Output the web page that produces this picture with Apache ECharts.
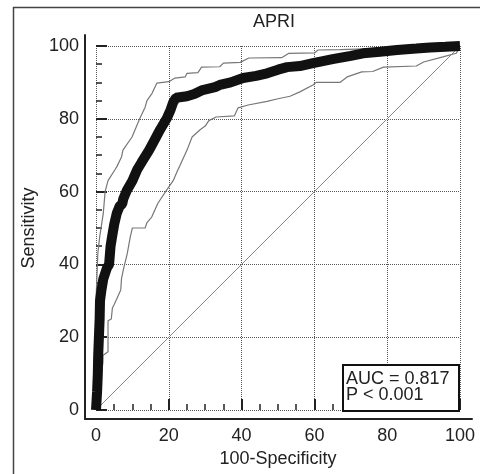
<!DOCTYPE html>
<html>
<head>
<meta charset="utf-8">
<script src="https://cdn.jsdelivr.net/npm/echarts@6/dist/echarts.min.js"></script>
<style>
html,body{margin:0;padding:0;background:#fff;overflow:hidden;}
#chart{width:480px;height:474px;}
</style>
</head>
<body>
<div id="chart"></div>
<script>
const chartTitle = 'APRI';
const xAxisName = '100-Specificity';
const yAxisName = 'Sensitivity';
const aucText = ['AUC = 0.817', 'P < 0.001'];

const rocCurve = [
  [0,0],[0.3,5],[0.5,10],[0.6,15],[0.8,20],[1,25],[1.1,30],[1.5,33],[2,36],[3,39],
  [3.6,40],[4,45],[4.4,47.5],[5,51],[5.7,54],[6.5,56],[7.2,56.6],[7.5,58],[8.5,60.4],
  [10,63],[11.3,66],[12.5,68],[14.6,71.4],[16,74],[17.6,77],[19.5,80.2],[20.5,82.5],
  [21.2,84.5],[22,85.8],[25,86.2],[27,86.8],[29,87.8],[32.7,88.7],[34,89.3],[37,90],
  [40.4,91.2],[44,91.8],[47,92.5],[50,93.5],[52.5,94.2],[56,94.5],[59.6,95.3],[62,95.8],
  [65,96.4],[70,97.3],[73.4,98],[78,98.4],[82.7,98.9],[88,99.3],[91.8,99.6],[96,99.8],[100,100]
];

const upperCI = [
  [0,0],[0,30],[0.5,43],[1,47.5],[2,54],[2.5,60],[3.3,63],[5.2,66],[5.8,67],[7,69.5],
  [7.4,71.4],[9.9,75],[12,80],[13.5,83.2],[14,85],[15.4,87],[16.7,89.8],[17,90],[20,90.2],
  [21.7,91.2],[24.5,91.5],[25,92.5],[28,92.7],[29,94.2],[34,94.3],[35,95.3],[39.6,95.5],
  [42,96.7],[51,96.8],[53,98],[60,98.1],[61,98.9],[67,99],[76,99.3],[85,100],[100,100]
];

const lowerCI = [
  [0,0],[0.5,5],[1.5,10],[1.9,13],[1.9,15],[3.3,16],[3.3,24.5],[4.2,25],[4.5,28],[5,29],
  [5.9,31],[6.8,33],[7,36],[7.5,38.5],[8.6,43],[9.4,47.5],[10,50],[13.5,50],[14,51.5],
  [15.3,53],[17,56.8],[19.4,60.4],[21.2,63],[22.5,66],[23,67],[25,71.4],[26.4,75],
  [28.6,77],[30,78],[31,79.5],[33,80.5],[38,80.8],[39,83],[41.8,83.8],[47,84.8],[50,85.5],
  [53.3,86.2],[56,87.4],[59.6,89.3],[60.5,90],[67,90],[69,91.5],[73,92.9],[76,93],
  [79,94.2],[88,94.5],[90,95.6],[95.3,97],[99,98],[100,100]
];

const diagonal = [[0,0],[100,100]];

const FONT = 'Liberation Sans, Arial, sans-serif';
const TXT = '#222';

const chart = echarts.init(document.getElementById('chart'), null, {renderer:'canvas'});
chart.setOption({
  animation: false,
  backgroundColor: '#fff',
  title: [
    {text: chartTitle, left: 253, top: 13, padding: 0,
     textStyle: {fontSize: 18, fontWeight: 'normal', color: TXT, fontFamily: FONT}},
    {text: aucText.join('\n'), left: 343, top: 366, padding: [5,10,7,3],
     borderColor: '#111', borderWidth: 2, backgroundColor: '#fff',
     textStyle: {fontSize: 18, fontWeight: 'normal', color: TXT, fontFamily: FONT, lineHeight: 16}}
  ],
  graphic: [
    {type: 'line', shape: {x1: 13.5, y1: 7, x2: 13.5, y2: 474},
     style: {stroke: '#444', lineWidth: 1.5}, silent: true, z: -10},
    {type: 'line', shape: {x1: 13, y1: 7.5, x2: 480, y2: 7.5},
     style: {stroke: '#444', lineWidth: 1.5}, silent: true, z: -10}
  ],
  grid: [
    {left: 96, top: 46, width: 364, height: 364},
    {left: 85, top: 35, width: 387, height: 384}
  ],
  xAxis: [
    {gridIndex: 0, type: 'value', min: 0, max: 100, interval: 20, offset: 9,
     axisLine: {show: false},
     axisTick: {show: true, inside: true, length: 11, lineStyle: {color: TXT, width: 2}},
     minorTick: {show: true, splitNumber: 4, length: 6, lineStyle: {color: TXT, width: 1.5}},
     axisLabel: {margin: 8, fontSize: 18, color: TXT, fontFamily: FONT},
     splitLine: {show: true, lineStyle: {type: [1, 1], color: '#555', width: 1}},
     name: xAxisName, nameLocation: 'middle', nameGap: 29,
     nameTextStyle: {fontSize: 18, color: TXT, fontFamily: FONT}},
    {gridIndex: 1, type: 'value', min: 0, max: 1, position: 'bottom',
     axisLine: {show: true, onZero: false, lineStyle: {color: TXT, width: 2}},
     axisTick: {show: false}, axisLabel: {show: false}, splitLine: {show: false}}
  ],
  yAxis: [
    {gridIndex: 0, type: 'value', min: 0, max: 100, interval: 20, offset: 11,
     axisLine: {show: false},
     axisTick: {show: true, inside: true, length: 11, lineStyle: {color: TXT, width: 2}},
     minorTick: {show: true, splitNumber: 4, length: 6, lineStyle: {color: TXT, width: 1.5}},
     axisLabel: {margin: 6, fontSize: 18, color: TXT, fontFamily: FONT},
     splitLine: {show: true, lineStyle: {type: [1, 1], color: '#555', width: 1}},
     name: yAxisName, nameLocation: 'middle', nameGap: 46,
     nameTextStyle: {fontSize: 18, color: TXT, fontFamily: FONT}},
    {gridIndex: 1, type: 'value', min: 0, max: 1, position: 'left',
     axisLine: {show: true, onZero: false, lineStyle: {color: TXT, width: 2}},
     axisTick: {show: false}, axisLabel: {show: false}, splitLine: {show: false}}
  ],
  series: [
    {type: 'line', xAxisIndex: 0, yAxisIndex: 0, data: diagonal, showSymbol: false,
     lineStyle: {color: '#888', width: 1}, z: 2},
    {type: 'line', xAxisIndex: 0, yAxisIndex: 0, data: upperCI, showSymbol: false,
     lineStyle: {color: '#777', width: 1.2}, z: 3},
    {type: 'line', xAxisIndex: 0, yAxisIndex: 0, data: lowerCI, showSymbol: false,
     lineStyle: {color: '#777', width: 1.2}, z: 3},
    {type: 'line', xAxisIndex: 0, yAxisIndex: 0, data: rocCurve, showSymbol: false,
     lineStyle: {color: '#111', width: 10}, z: 4}
  ]
});
</script>
</body>
</html>
